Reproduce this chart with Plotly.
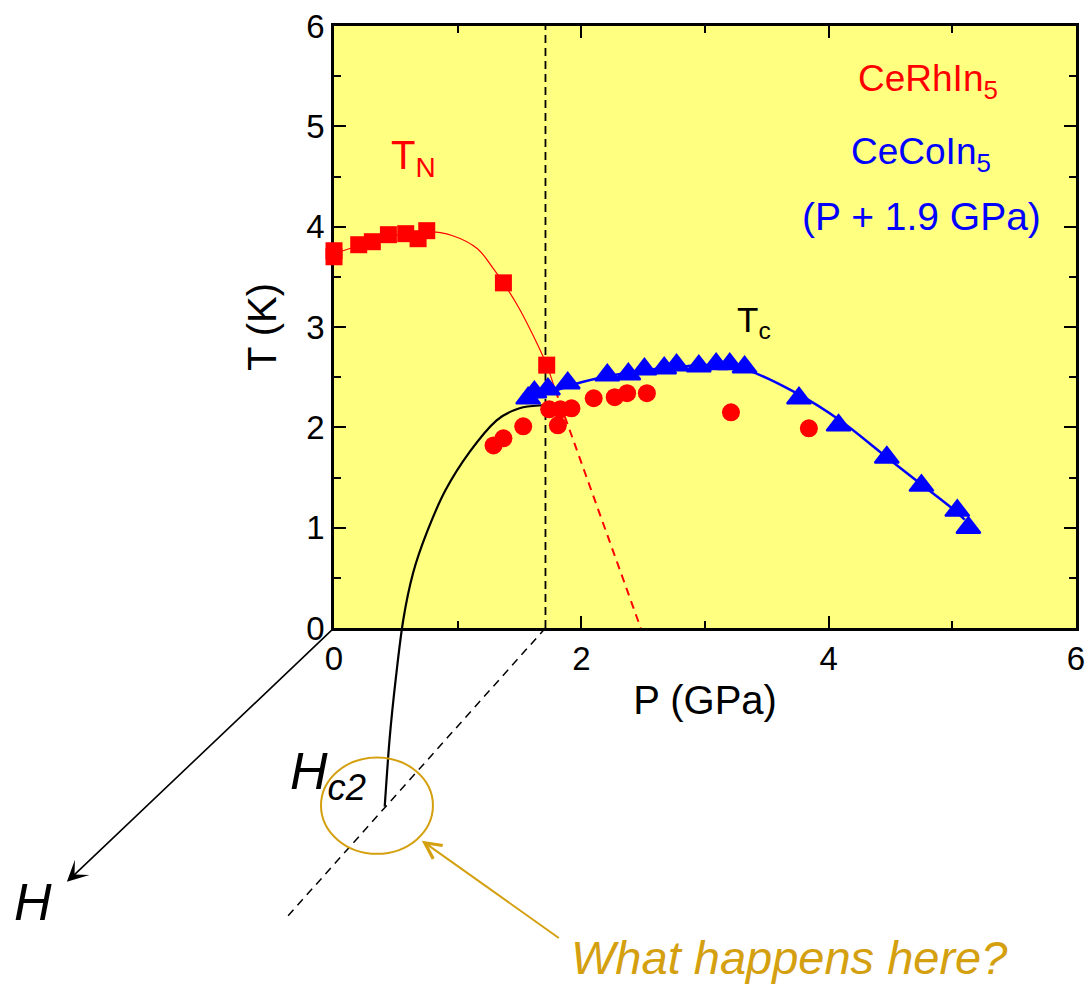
import plotly.graph_objects as go

# ---- data (P in GPa, T in K) ----
# CeRhIn5 Neel temperature T_N
tn_P = [0.0, 0.0, 0.20, 0.31, 0.44, 0.58, 0.68, 0.75, 1.37, 1.72]
tn_T = [3.76, 3.70, 3.82, 3.85, 3.92, 3.93, 3.88, 3.96, 3.44, 2.62]

# CeRhIn5 superconducting Tc
rh_tc_P = [1.29, 1.37, 1.53, 1.74, 1.83, 1.81, 1.92, 2.10, 2.27, 2.37, 2.53, 3.21, 3.84]
rh_tc_T = [1.82, 1.89, 2.01, 2.18, 2.18, 2.02, 2.19, 2.29, 2.30, 2.34, 2.34, 2.15, 1.99]

# CeCoIn5 Tc, pressure shifted by +1.9 GPa
co_tc_P = [1.57, 1.62, 1.73, 1.89, 2.21, 2.38, 2.51, 2.67, 2.77, 2.95, 3.09, 3.20, 3.32,
           3.76, 4.08, 4.47, 4.75, 5.04, 5.13]
co_tc_T = [2.29, 2.35, 2.38, 2.44, 2.52, 2.53, 2.58, 2.59, 2.62, 2.61, 2.63, 2.63, 2.60,
           2.29, 2.02, 1.70, 1.42, 1.17, 1.00]

# guide-to-the-eye curves
tn_guide_P = [0.0, 0.20, 0.45, 0.75, 0.96, 1.16, 1.29, 1.37, 1.50, 1.64, 1.72, 1.79]
tn_guide_T = [3.73, 3.81, 3.90, 3.95, 3.91, 3.78, 3.58, 3.44, 3.18, 2.84, 2.62, 2.37]
tn_ext_P = [1.79, 2.48]
tn_ext_T = [2.37, 0.0]
co_guide_P = [1.62, 2.00, 2.40, 2.85, 3.10, 3.34, 3.74, 4.09, 4.45, 4.74, 5.00, 5.10]
co_guide_T = [2.29, 2.45, 2.55, 2.61, 2.62, 2.57, 2.34, 2.07, 1.72, 1.44, 1.19, 1.08]

# Hc2 sketch curve, running from the P-T plane down into the field direction
hc2_P = [1.69, 1.50, 1.315, 1.10, 0.90, 0.75, 0.64, 0.56, 0.50, 0.45, 0.41]
hc2_T = [2.22, 2.19, 2.07, 1.76, 1.37, 0.95, 0.55, 0.08, -0.50, -1.10, -1.78]

# pressure where T_N meets Tc
p_cut = 1.71

# ---- layout geometry ----
W, H = 1088, 986
ML, MR, MT, MB = 334, 12, 26, 358
X_RANGE = [0, 6]
Y_RANGE = [0, 6]
plot_w = W - ML - MR
plot_h = H - MT - MB
px_per_P = plot_w / (X_RANGE[1] - X_RANGE[0])
px_per_T = plot_h / (Y_RANGE[1] - Y_RANGE[0])

FONT = "Liberation Sans, Arial, Helvetica, sans-serif"
RED = "#FF0000"
BLUE = "#0000FF"
GOLD = "#D4A010"
BG = "#FFFF80"


def paper(p, t):
    """Convert (P, T) data units into paper coordinates (works outside the axes too)."""
    return ((p - X_RANGE[0]) / (X_RANGE[1] - X_RANGE[0]),
            (t - Y_RANGE[0]) / (Y_RANGE[1] - Y_RANGE[0]))


def smooth_path(ps, ts, flat_start=False):
    """Catmull-Rom curve through the points, written as an SVG path in paper units.
    With flat_start the curve leaves its first point horizontally."""
    pts = [paper(p, t) for p, t in zip(ps, ts)]
    n = len(pts)
    if flat_start:
        first = (2 * pts[0][0] - pts[1][0], pts[0][1])
    else:
        first = pts[0]
    d = "M{:.5f},{:.5f}".format(*pts[0])
    for i in range(n - 1):
        p0 = pts[i - 1] if i > 0 else first
        p1, p2 = pts[i], pts[i + 1]
        p3 = pts[i + 2] if i + 2 < n else pts[i + 1]
        c1 = (p1[0] + (p2[0] - p0[0]) / 6, p1[1] + (p2[1] - p0[1]) / 6)
        c2 = (p2[0] - (p3[0] - p1[0]) / 6, p2[1] - (p3[1] - p1[1]) / 6)
        d += " C{:.5f},{:.5f} {:.5f},{:.5f} {:.5f},{:.5f}".format(*c1, *c2, *p2)
    return d


fig = go.Figure()

# guide lines
fig.add_trace(go.Scatter(x=tn_guide_P, y=tn_guide_T, mode="lines",
                         line=dict(color=RED, width=1.2, shape="spline"),
                         hoverinfo="skip", showlegend=False))
fig.add_trace(go.Scatter(x=tn_ext_P, y=tn_ext_T, mode="lines",
                         line=dict(color=RED, width=2, dash="8px,6px"),
                         hoverinfo="skip", showlegend=False))
fig.add_trace(go.Scatter(x=co_guide_P, y=co_guide_T, mode="lines",
                         line=dict(color=BLUE, width=2.5, shape="spline"),
                         hoverinfo="skip", showlegend=False))

# data markers
fig.add_trace(go.Scatter(x=rh_tc_P, y=rh_tc_T, mode="markers", cliponaxis=False,
                         marker=dict(symbol="circle", size=18, color=RED),
                         name="CeRhIn5 Tc", showlegend=False))
fig.add_trace(go.Scatter(x=tn_P, y=tn_T, mode="markers", cliponaxis=False,
                         marker=dict(symbol="square", size=17, color=RED),
                         name="CeRhIn5 TN", showlegend=False))
fig.add_trace(go.Scatter(x=co_tc_P, y=co_tc_T, mode="markers", cliponaxis=False,
                         marker=dict(symbol="triangle-up", size=21, color=BLUE,
                                     line=dict(color=BLUE, width=2)),
                         name="CeCoIn5 Tc", showlegend=False))

shapes = []
# vertical dashed line at the crossing pressure
shapes.append(dict(type="line", xref="x", yref="y", x0=p_cut, x1=p_cut,
                   y0=Y_RANGE[0], y1=Y_RANGE[1], layer="below",
                   line=dict(color="black", width=1.8, dash="8px,5px")))
# dashed line continuing the crossing pressure into the field direction
d0 = paper(p_cut, 0.0)
d1 = paper(-0.38, -2.88)
shapes.append(dict(type="line", xref="paper", yref="paper", x0=d0[0], y0=d0[1],
                   x1=d1[0], y1=d1[1], layer="above",
                   line=dict(color="black", width=1.5, dash="8px,6px")))
# Hc2 curve
shapes.append(dict(type="path", xref="paper", yref="paper", layer="below",
                   path=smooth_path(hc2_P, hc2_T, flat_start=True),
                   line=dict(color="black", width=2.2)))
# circle marking the region of interest
c0 = paper(-0.105, -1.29)
c1 = paper(0.80, -2.25)
shapes.append(dict(type="circle", xref="paper", yref="paper",
                   x0=c0[0], y0=c1[1], x1=c1[0], y1=c0[1],
                   line=dict(color=GOLD, width=2)))

annotations = []


def arrow(tip, tail, color, head, size, width):
    tx, ty = paper(*tip)
    annotations.append(dict(
        xref="paper", yref="paper", x=tx, y=ty, text="", showarrow=True,
        axref="pixel", ayref="pixel",
        ax=(tail[0] - tip[0]) * px_per_P, ay=-(tail[1] - tip[1]) * px_per_T,
        arrowhead=head, arrowsize=size, arrowwidth=width, arrowcolor=color))


# field axis
arrow((-2.16, -2.53), (0.0, 0.0), "black", 3, 2.2, 1.6)
# pointer to the circle
arrow((0.71, -2.12), (1.83, -3.10), GOLD, 5, 1.6, 2)


def label(p, t, text, size, color, italic=False, xanchor="center", yanchor="middle"):
    x, y = paper(p, t)
    annotations.append(dict(
        xref="paper", yref="paper", x=x, y=y, text=text, showarrow=False,
        xanchor=xanchor, yanchor=yanchor,
        font=dict(family=FONT, size=size, color=color,
                  style="italic" if italic else "normal")))


label(0.645, 4.68, "T<sub>N</sub>", 40, RED)
label(3.40, 3.05, "T<sub>c</sub>", 35, "black")
label(4.80, 5.45, "CeRhIn<sub>5</sub>", 37, RED)
label(4.75, 4.72, "CeCoIn<sub>5</sub>", 37, BLUE)
label(4.75, 4.10, "(P + 1.9 GPa)", 39, BLUE)
label(-0.05, -1.47, "H<sub>c2</sub>", 52, "black", italic=True)
label(-2.43, -2.73, "H", 52, "black", italic=True)
label(3.68, -3.28, "What happens here?", 47, GOLD, italic=True)

axis_common = dict(
    showgrid=False, zeroline=False,
    showline=True, linecolor="black", linewidth=2.5, mirror="ticks",
    ticks="inside", ticklen=12, tickwidth=2, tickcolor="black",
    tickfont=dict(family=FONT, size=33, color="black"),
    layer="below traces",
)

fig.update_layout(
    width=W, height=H,
    margin=dict(l=ML, r=MR, t=MT, b=MB, autoexpand=False),
    paper_bgcolor="white", plot_bgcolor=BG,
    showlegend=False,
    shapes=shapes, annotations=annotations,
    xaxis=dict(axis_common, range=X_RANGE, dtick=2, tick0=0,
               minor=dict(dtick=1, ticks="inside", ticklen=7, tickwidth=2, tickcolor="black"),
               title=dict(text="P (GPa)", font=dict(family=FONT, size=40, color="black"),
                          standoff=10)),
    yaxis=dict(axis_common, range=Y_RANGE, dtick=1, tick0=0,
               minor=dict(dtick=0.5, ticks="inside", ticklen=7, tickwidth=2, tickcolor="black"),
               title=dict(text="T (K)", font=dict(family=FONT, size=40, color="black"),
                          standoff=18)),
)

fig.write_html("out.html")
